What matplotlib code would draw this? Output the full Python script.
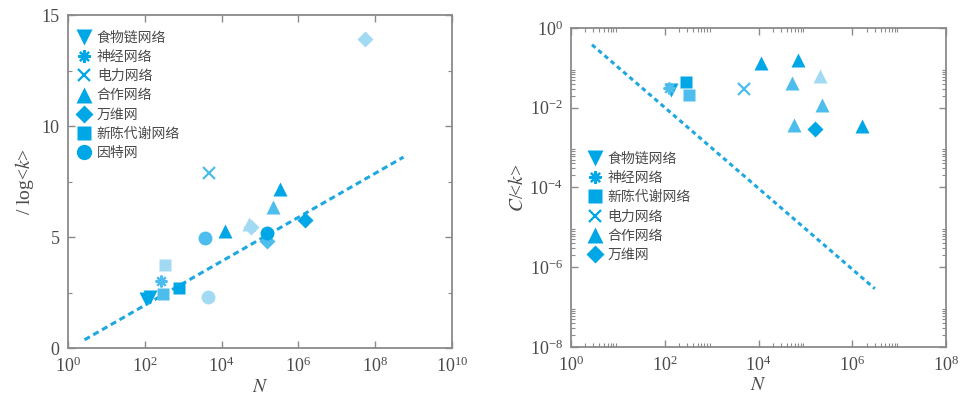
import numpy as np
import matplotlib
matplotlib.use("Agg")
import matplotlib.pyplot as plt
from matplotlib.ticker import FixedLocator, LogFormatterMathtext, NullFormatter
from matplotlib.font_manager import FontProperties

plt.rcParams['font.family'] = ['Liberation Serif', 'DejaVu Serif']
plt.rcParams['mathtext.fontset'] = 'stix'

# ---- left panel data: l/log<k> vs N ----
food_N = [135, 110]
food_l = [2.3, 2.2]
food_shade = [0, 0]

neural_N = [270]
neural_l = [3.0]
neural_shade = [1]

power_N = [4800]
power_l = [7.9]
power_shade = [1]

collab_N = [12000, 330000, 220000, 52000]
collab_l = [5.25, 7.15, 6.35, 5.6]
collab_shade = [0, 0, 1, 2]

www_N = [5.5e7, 1.5e6, 1.5e5, 5.8e4]
www_l = [13.9, 5.75, 4.8, 5.45]
www_shade = [2, 0, 1, 2]

metab_N = [330, 800, 300]
metab_l = [3.75, 2.7, 2.45]
metab_shade = [2, 0, 1]

inet_N = [3800, 4400, 150000]
inet_l = [4.95, 2.3, 5.2]
inet_shade = [1, 2, 0]

fit1_N = [2.7, 5.5e8]
fit1_l = [0.37, 8.6]

# ---- right panel data: C/<k> vs N ----
food2_N = [135]
food2_C = [0.028]
food2_shade = [0]

neural2_N = [120]
neural2_C = [0.032]
neural2_shade = [1]

metab2_N = [290, 330]
metab2_C = [0.045, 0.021]
metab2_shade = [0, 1]

power2_N = [4800]
power2_C = [0.029]
power2_shade = [1]

collab2_N = [11500, 70000, 51000, 205000, 225000, 57000, 1.6e6]
collab2_C = [0.13, 0.155, 0.042, 0.062, 0.012, 0.0037, 0.0035]
collab2_shade = [0, 0, 1, 2, 1, 1, 0]

www2_N = [160000]
www2_C = [0.0029]
www2_shade = [0]

fit2_N = [2.8, 3.0e6]
fit2_C = [0.38, 2.9e-7]

shades = ['#00a7e6', '#4cbdec', '#a3daf3']
line_color = '#1fa8e0'
spine_color = '#8a8a8a'
text_color = '#4a4a4a'
cjk = FontProperties(family=['Noto Sans CJK SC', 'DejaVu Sans'], size=10)


def draw(ax, xs, ys, shade, marker, label, ms=10):
    thin = marker in ('x', (8, 2, 0))
    for x, y, s in zip(xs, ys, shade):
        if thin:
            ax.plot(x, y, linestyle='none', marker=marker, ms=ms * 0.85,
                    color=shades[s], mew=1.6, zorder=3)
        else:
            ax.plot(x, y, linestyle='none', marker=marker, ms=ms,
                    color=shades[s], mec='none', zorder=3)
    # legend proxy
    if thin:
        return ax.plot([], [], linestyle='none', marker=marker, ms=ms * 0.9,
                       color=shades[0], mew=1.6, label=label)[0]
    return ax.plot([], [], linestyle='none', marker=marker, ms=ms * 1.1,
                   color=shades[0], mec='none', label=label)[0]


def style(ax):
    for sp in ax.spines.values():
        sp.set_color(spine_color)
        sp.set_linewidth(1.3)
    ax.tick_params(which='both', direction='in', top=True, right=True,
                   colors=spine_color, labelcolor=text_color, labelsize=13)
    ax.tick_params(which='major', length=5, width=1)
    ax.tick_params(which='minor', length=3, width=0.8)
    ax.tick_params(axis='x', which='major', pad=6)
    ax.tick_params(axis='y', which='major', pad=6)


fig = plt.figure(figsize=(9.67, 3.97), dpi=100)

# left panel
ax1 = fig.add_axes([0.0703, 0.1234, 0.397, 0.8388])
ax1.plot(fit1_N, fit1_l, color=line_color, lw=2.2, dashes=(2, 1.3), zorder=2)
draw(ax1, food_N, food_l, food_shade, 'v', '食物链网络')
draw(ax1, neural_N, neural_l, neural_shade, (8, 2, 0), '神经网络')
draw(ax1, power_N, power_l, power_shade, 'x', '电力网络')
draw(ax1, collab_N, collab_l, collab_shade, '^', '合作网络')
draw(ax1, www_N, www_l, www_shade, 'D', '万维网', ms=8.5)
draw(ax1, metab_N, metab_l, metab_shade, 's', '新陈代谢网络', ms=9)
draw(ax1, inet_N, inet_l, inet_shade, 'o', '因特网')
ax1.set_xscale('log')
ax1.set_xlim(1, 1e10)
ax1.set_ylim(0, 15)
ax1.xaxis.set_major_locator(FixedLocator([10.0 ** k for k in range(0, 11, 2)]))
ax1.xaxis.set_major_formatter(LogFormatterMathtext())
ax1.xaxis.set_minor_locator(FixedLocator([]))
ax1.set_yticks([0, 5, 10, 15])
ax1.set_yticks([2.5, 7.5, 12.5], minor=True)
style(ax1)
ax1.set_xlabel('$N$', fontsize=14, color=text_color, labelpad=2)
ax1.set_ylabel('/ log<$k$>', fontsize=14, color=text_color, labelpad=4)
ax1.legend(loc='upper left', frameon=False, prop=cjk, handletextpad=0.4,
           labelspacing=0.38, borderaxespad=0.0, handlelength=1.0,
           labelcolor=text_color, bbox_to_anchor=(0.01, 0.97))

# right panel
ax2 = fig.add_axes([0.5905, 0.126, 0.388, 0.8035])
ax2.plot(fit2_N, fit2_C, color=line_color, lw=2.2, dashes=(1.5, 1.2), zorder=2)
draw(ax2, food2_N, food2_C, food2_shade, 'v', '食物链网络')
draw(ax2, neural2_N, neural2_C, neural2_shade, (8, 2, 0), '神经网络')
draw(ax2, metab2_N, metab2_C, metab2_shade, 's', '新陈代谢网络', ms=9)
draw(ax2, power2_N, power2_C, power2_shade, 'x', '电力网络')
draw(ax2, collab2_N, collab2_C, collab2_shade, '^', '合作网络')
draw(ax2, www2_N, www2_C, www2_shade, 'D', '万维网', ms=8.5)
ax2.set_xscale('log')
ax2.set_yscale('log')
ax2.set_xlim(1, 1e8)
ax2.set_ylim(1e-8, 1)
ax2.xaxis.set_major_locator(FixedLocator([10.0 ** k for k in range(0, 9, 2)]))
ax2.xaxis.set_minor_locator(FixedLocator([m * 10.0 ** k for k in range(0, 8, 2) for m in range(2, 10)]))
ax2.yaxis.set_major_locator(FixedLocator([10.0 ** k for k in range(-8, 1, 2)]))
ax2.yaxis.set_minor_locator(FixedLocator([m * 10.0 ** k for k in range(-8, 0, 2) for m in range(2, 10)]))
for a in (ax2.xaxis, ax2.yaxis):
    a.set_major_formatter(LogFormatterMathtext())
    a.set_minor_formatter(NullFormatter())
style(ax2)
ax2.set_xlabel('$N$', fontsize=14, color=text_color, labelpad=2)
ax2.set_ylabel('$C$/<$k$>', fontsize=14, color=text_color, labelpad=2)
ax2.legend(loc='upper left', frameon=False, prop=cjk, handletextpad=0.4,
           labelspacing=0.38, handlelength=1.0, labelcolor=text_color,
           borderaxespad=0.0, bbox_to_anchor=(0.03, 0.63))

fig.savefig('out.png', dpi=100)
